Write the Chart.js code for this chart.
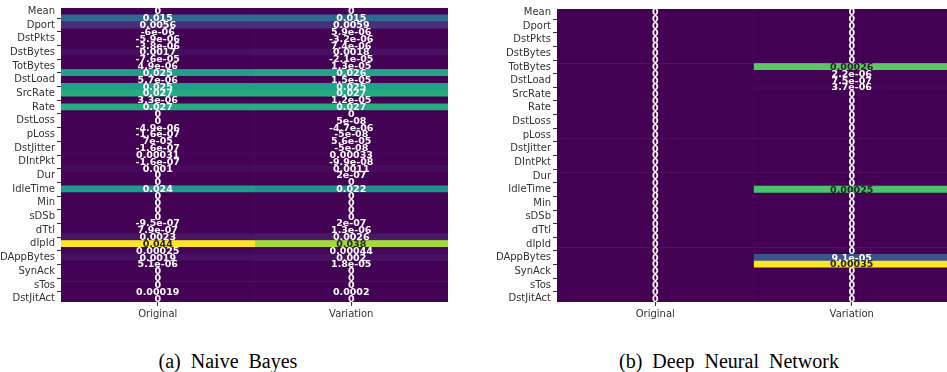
<!DOCTYPE html>
<html>
<head>
<meta charset="utf-8">
<script src="https://cdn.jsdelivr.net/npm/chart.js@4/dist/chart.umd.min.js"></script>
<style>
  html, body { margin: 0; padding: 0; background: #fff; overflow: hidden; }
  #wrap { position: relative; width: 947px; height: 372px; overflow: hidden; }
  canvas { position: absolute; top: 0; }
  .caption {
    position: absolute; top: 350px; width: 400px; text-align: center;
    font-family: "Liberation Serif", "DejaVu Serif", serif; font-size: 20px;
    word-spacing: 5px; color: #000;
  }
</style>
</head>
<body>
<div id="wrap">
  <canvas id="nb" width="470" height="330" style="left:0"></canvas>
  <canvas id="dnn" width="480" height="330" style="left:470px"></canvas>
  <div class="caption" style="left:28px">(a) Naive Bayes</div>
  <div class="caption" style="left:529px">(b) Deep Neural Network</div>
</div>
<script>
// rows of the heatmaps (seaborn only labelled every other row)
const rowLabels = ['Mean', '', 'Dport', '', 'DstPkts', '', 'DstBytes', '', 'TotBytes', '',
  'DstLoad', '', 'SrcRate', '', 'Rate', '', 'DstLoss', '', 'pLoss', '', 'DstJitter', '',
  'DIntPkt', '', 'Dur', '', 'IdleTime', '', 'Min', '', 'sDSb', '', 'dTtl', '', 'dIpId', '',
  'DAppBytes', '', 'SynAck', '', 'sTos', '', 'DstJitAct'];
const columnNames = ['Original', 'Variation'];

// (a) Naive Bayes
const nbOriginal = [0, 0.015, 0.0056, -6e-06, -5.9e-06, -3.8e-06, 0.0017, -7.6e-05, 4.9e-06, 0.025,
  5.7e-06, 0.025, 0.027, 3.3e-06, 0.027, 0, 0, -4.9e-06, -1.6e-07, 7e-05,
  -1.6e-07, 0.00031, -1.6e-07, 0.001, 0, 0, 0.024, 0, 0, 0,
  0, -9.5e-07, 7.9e-07, 0.0023, 0.044, 0.00025, 0.0019, 5.1e-06, 0, 0,
  0, 0.00019, 0];
const nbVariation = [0, 0.015, 0.0059, 5.9e-06, -3.2e-06, 7.4e-06, 0.0018, -2.1e-05, 1.3e-05, 0.026,
  1.5e-05, 0.025, 0.027, 1.2e-05, 0.027, 0, 5e-08, -4.7e-06, -5e-08, 5.6e-05,
  -5e-08, 0.00033, -9.9e-08, 0.0011, 2e-07, 0, 0.022, 0, 0, 0,
  0, 2e-07, 1.3e-06, 0.0026, 0.038, 0.00044, 0.002, 1.8e-05, 0, 0,
  0, 0.0002, 0];

// (b) Deep Neural Network
const dnnOriginal = [0, 0, 0, 0, 0, 0, 0, 0, 0, 0,
  0, 0, 0, 0, 0, 0, 0, 0, 0, 0,
  0, 0, 0, 0, 0, 0, 0, 0, 0, 0,
  0, 0, 0, 0, 0, 0, 0, 0, 0, 0,
  0, 0, 0];
const dnnVariation = [0, 0, 0, 0, 0, 0, 0, 0, 0.00026, 2.2e-06,
  7.5e-07, 3.7e-06, 0, 0, 0, 0, 0, 0, 0, 0,
  0, 0, 0, 0, 0, 0, 0.00025, 0, 0, 0,
  0, 0, 0, 0, 0, 0, 9.1e-05, 0.00035, 0, 0,
  0, 0, 0];

const viridisStops = ['#440154', '#471365', '#482475', '#46337f', '#414487', '#3b528b', '#355f8d',
  '#2f6c8e', '#2a788e', '#25858e', '#21918c', '#1e9c89', '#22a884', '#35b779', '#44bf70',
  '#5ec962', '#7ad151', '#9bd93c', '#bddf26', '#dde318', '#fde725'];

function hexRgb(h) {
  return [parseInt(h.slice(1, 3), 16), parseInt(h.slice(3, 5), 16), parseInt(h.slice(5, 7), 16)];
}

function viridis(t) {
  t = Math.max(0, Math.min(1, t));
  const pos = t * (viridisStops.length - 1);
  const i = Math.min(Math.floor(pos), viridisStops.length - 2);
  const f = pos - i;
  const a = hexRgb(viridisStops[i]), b = hexRgb(viridisStops[i + 1]);
  return a.map((c, k) => Math.round(c + (b[k] - c) * f));
}

// seaborn picks dark or white text from the cell luminance
function textColor(rgb) {
  const lin = rgb.map(c => {
    c /= 255;
    return c <= 0.03928 ? c / 12.92 : Math.pow((c + 0.055) / 1.055, 2.4);
  });
  const l = 0.2126 * lin[0] + 0.7152 * lin[1] + 0.0722 * lin[2];
  return l > 0.408 ? '#262626' : '#ffffff';
}

// python style '.2g'
function fmt2g(v) {
  if (v === 0) return '0';
  let [m, e] = v.toExponential(1).split('e');
  e = +e;
  if (e < -4 || e >= 2) {
    m = m.replace(/\.0$/, '');
    return m + 'e' + (e < 0 ? '-' : '+') + String(Math.abs(e)).padStart(2, '0');
  }
  return parseFloat(v.toFixed(Math.max(0, 1 - e))).toString();
}

const annotPlugin = {
  id: 'annot',
  afterDatasetsDraw(chart) {
    const ctx = chart.ctx;
    const xs = chart.scales.x, ys = chart.scales.y;
    ctx.save();
    ctx.font = 'bold 9.5px "DejaVu Sans"';
    ctx.textAlign = 'center';
    ctx.textBaseline = 'middle';
    chart.data.datasets.forEach((ds, c) => {
      ds.values.forEach((v, r) => {
        ctx.fillStyle = ds.textColors[r];
        ctx.fillText(fmt2g(v), xs.getPixelForValue(c), ys.getPixelForValue(r) + 0.5);
      });
    });
    ctx.restore();
  }
};

function makeHeatmap(id, columns, yWidth, padTop, padRight) {
  const all = columns.flat();
  const lo = Math.min(...all), hi = Math.max(...all);
  const tickFont = { family: 'DejaVu Sans', size: 10 };
  return new Chart(document.getElementById(id), {
    type: 'bar',
    data: {
      labels: rowLabels,
      datasets: columns.map((vals, c) => {
        const rgbs = vals.map(v => viridis((v - lo) / (hi - lo)));
        return {
          label: columnNames[c],
          data: vals.map(() => [c - 0.5, c + 0.5]),
          values: vals,
          backgroundColor: rgbs.map(q => `rgb(${q[0]},${q[1]},${q[2]})`),
          textColors: rgbs.map(textColor),
          grouped: false,
          barPercentage: 1,
          categoryPercentage: 1,
          borderWidth: 0
        };
      })
    },
    options: {
      indexAxis: 'y',
      responsive: false,
      animation: false,
      devicePixelRatio: 1,
      layout: { padding: { top: padTop, right: padRight, left: 0, bottom: 0 } },
      plugins: { legend: { display: false }, tooltip: { enabled: false } },
      scales: {
        x: {
          type: 'linear',
          min: -0.5,
          max: 1.5,
          afterBuildTicks: s => { s.ticks = columnNames.map((n, i) => ({ value: i })); },
          afterFit: s => { s.height = 28; },
          ticks: { callback: v => columnNames[v], font: tickFont, color: '#333', padding: 2, maxRotation: 0, autoSkip: false },
          grid: { drawOnChartArea: false, tickLength: 4, tickColor: '#333', tickWidth: 1 },
          border: { display: false }
        },
        y: {
          type: 'category',
          afterBuildTicks: s => { s.ticks = s.ticks.filter(t => rowLabels[t.value] !== ''); },
          afterFit: s => { s.width = yWidth; },
          ticks: { callback: v => rowLabels[v], font: tickFont, color: '#333', padding: 2, autoSkip: false },
          grid: { drawOnChartArea: false, tickLength: 4, tickColor: '#333', tickWidth: 1 },
          border: { display: false }
        }
      }
    },
    plugins: [annotPlugin]
  });
}

makeHeatmap('nb', [nbOriginal, nbVariation], 61, 8, 22);
makeHeatmap('dnn', [dnnOriginal, dnnVariation], 87, 9, 0);
</script>
</body>
</html>
